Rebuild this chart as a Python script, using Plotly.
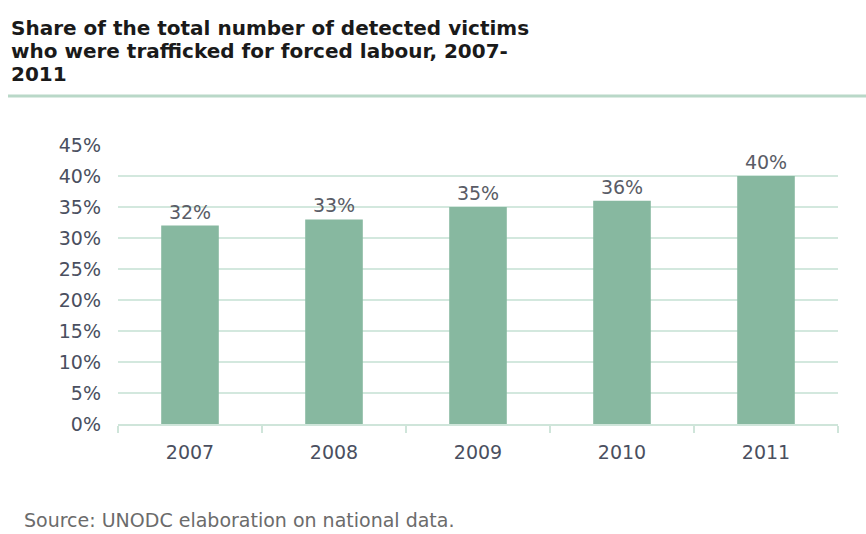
import plotly.graph_objects as go

years = ["2007", "2008", "2009", "2010", "2011"]
shares = [32, 33, 35, 36, 40]
y_ticks = [0, 5, 10, 15, 20, 25, 30, 35, 40, 45]
title_lines = [
    "Share of the total number of detected victims",
    "who were trafficked for forced labour, 2007-",
    "2011",
]
source_text = "Source: UNODC elaboration on national data."

W, H = 866, 534
L, R, T, B = 118, 28, 145, 110
pw, ph = W - L - R, H - T - B
FONT = "DejaVu Sans"

def px_x(x):
    return (x - L) / pw

def px_y(y):
    return (H - B - y) / ph

fig = go.Figure()
fig.add_trace(go.Bar(
    x=years, y=shares,
    marker=dict(color="#87b8a0", line=dict(width=0)),
    width=0.4,
    text=[f"{v}%" for v in shares],
    textposition="outside",
    textfont=dict(family=FONT, size=19, color="#5a5c66"),
    cliponaxis=False,
))

annotations = []
for i, line in enumerate(title_lines):
    annotations.append(dict(
        text=line, xref="paper", yref="paper",
        x=px_x(9), y=px_y(28 + 23 * i), xanchor="left", yanchor="middle",
        align="left", showarrow=False,
        font=dict(family=FONT, size=20, color="#1a1a1a", weight="bold"),
    ))
annotations.append(dict(
    text=source_text, xref="paper", yref="paper",
    x=px_x(22), y=px_y(520), xanchor="left", yanchor="middle",
    align="left", showarrow=False,
    font=dict(family=FONT, size=19, color="#6b6b6b"),
))

fig.update_layout(
    width=W, height=H,
    margin=dict(l=L, r=R, t=T, b=B, pad=0),
    paper_bgcolor="white", plot_bgcolor="white",
    showlegend=False,
    xaxis=dict(
        type="category",
        showline=True, linecolor="#cfe5da", linewidth=2,
        ticks="outside", tickson="boundaries", ticklen=7, tickcolor="#cfe5da", tickwidth=2,
        showgrid=False,
        tickfont=dict(family=FONT, size=19, color="#4a4f60"),
        ticklabelstandoff=10,
    ),
    yaxis=dict(
        range=[0, 45],
        tickvals=y_ticks,
        ticktext=[f"{v}%" for v in y_ticks],
        showgrid=True, gridcolor="#d3e8de", gridwidth=2,
        zeroline=False,
        tickfont=dict(family=FONT, size=19, color="#4a4f60"),
        ticklabelstandoff=16,
    ),
    annotations=annotations,
    shapes=[
        dict(
            type="line", xref="paper", yref="paper",
            x0=px_x(8), x1=px_x(866), y0=px_y(96), y1=px_y(96),
            line=dict(color="#b9d8c8", width=3),
        ),
    ],
)

fig.write_html("out.html")
